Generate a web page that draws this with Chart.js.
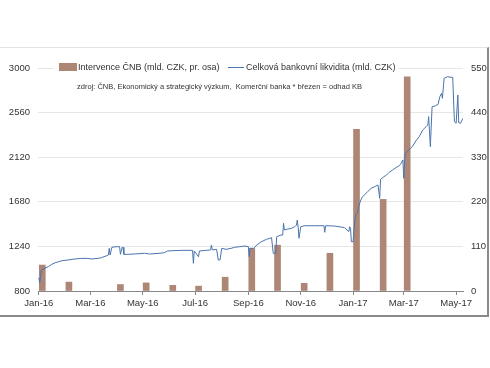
<!DOCTYPE html>
<html lang="cs">
<head>
  <meta charset="UTF-8" />
  <title>Likvidita</title>
  <script src="https://cdn.jsdelivr.net/npm/chart.js"></script>
  <style>
    body { margin: 0; background: #fff; font-family: "Liberation Sans", Arial, sans-serif; }
    #wrap { position: relative; width: 490px; height: 368px; }
    #frame { position: absolute; left: 0; top: 47px; width: 487px; height: 267px;
             border-top: 1px solid #e4e4e4; border-right: 2px solid #8a8a8a; border-bottom: 2px solid #8a8a8a; }
    .legend { position: absolute; top: 61px; left: 54px; height: 13px; padding-right: 4px;
              background: #fff; font-size: 9px; color: #333; white-space: nowrap; }
    .legend span { position: absolute; top: 0; line-height: 13px; }
    .sw-bar { position: absolute; left: 5px; top: 2px; width: 18px; height: 8px; background: #ad8676; }
    .sw-line { position: absolute; left: 174px; top: 6px; width: 16px; height: 1px; background: #4a74ad; }
    .source { position: absolute; top: 82px; left: 77px; font-size: 7.5px; color: #333; white-space: nowrap; }
  </style>
</head>
<body>
<div id="wrap">
  <div id="frame"></div>
  <canvas id="chart" width="490" height="368"></canvas>
  <div class="legend" style="width:340px">
    <div class="sw-bar"></div><span style="left:24px">Intervence ČNB (mld. CZK, pr. osa)</span>
    <div class="sw-line"></div><span style="left:192px">Celková bankovní likvidita (mld. CZK)</span>
  </div>
  <div class="source">zdroj: ČNB, Ekonomický a strategický výzkum,&nbsp; Komerční banka * březen = odhad KB</div>
</div>

<script>
  // Celková bankovní likvidita (mld. CZK), levá osa
  const liqDates = [
    '2016-01-01','2016-01-02','2016-01-04','2016-01-08','2016-01-12','2016-01-16','2016-01-20','2016-01-24','2016-01-28',
    '2016-02-04','2016-02-12','2016-02-20','2016-02-27',
    '2016-03-02','2016-03-10','2016-03-14','2016-03-20','2016-03-22','2016-03-23','2016-03-24','2016-03-26','2016-03-31',
    '2016-04-04','2016-04-05','2016-04-07','2016-04-08','2016-04-09','2016-04-14','2016-04-21',
    '2016-05-03','2016-05-09','2016-05-21','2016-05-26','2016-05-30',
    '2016-06-05','2016-06-16','2016-06-28','2016-06-29','2016-06-30',
    '2016-07-05','2016-07-06','2016-07-14','2016-07-19','2016-07-20','2016-07-21','2016-07-26','2016-07-28','2016-07-30',
    '2016-08-01','2016-08-06','2016-08-12','2016-08-16','2016-08-22','2016-08-28',
    '2016-09-01','2016-09-02','2016-09-03','2016-09-07','2016-09-11','2016-09-15','2016-09-18','2016-09-22','2016-09-26','2016-09-28','2016-09-30',
    '2016-10-03','2016-10-04','2016-10-09','2016-10-11','2016-10-12','2016-10-13','2016-10-17','2016-10-21','2016-10-25','2016-10-27','2016-10-28','2016-10-29','2016-10-30',
    '2016-11-01','2016-11-05','2016-11-17','2016-11-28','2016-11-29','2016-11-30',
    '2016-12-10','2016-12-18','2016-12-22','2016-12-27','2016-12-28','2016-12-29','2016-12-30',
    '2017-01-01','2017-01-03','2017-01-04','2017-01-06','2017-01-08','2017-01-10','2017-01-12','2017-01-14','2017-01-18','2017-01-22','2017-01-26','2017-01-30','2017-01-31',
    '2017-02-01','2017-02-02','2017-02-05','2017-02-09','2017-02-12','2017-02-16','2017-02-20','2017-02-24','2017-02-26','2017-02-28',
    '2017-03-01','2017-03-02','2017-03-03','2017-03-07','2017-03-11','2017-03-15','2017-03-19','2017-03-23','2017-03-27','2017-03-29','2017-03-30',
    '2017-04-01','2017-04-03','2017-04-07','2017-04-10','2017-04-12','2017-04-14','2017-04-15','2017-04-17','2017-04-21','2017-04-25','2017-04-27','2017-04-29',
    '2017-05-01','2017-05-03','2017-05-04','2017-05-06','2017-05-09'
  ];
  const liqValues = [
    930, 880, 1007, 1024, 1040, 1063, 1079, 1089, 1099,
    1106, 1116, 1122, 1122,
    1116, 1122, 1129, 1148, 1155, 1221, 1155, 1231, 1237,
    1237, 1162, 1231, 1231, 1162, 1162, 1165,
    1172, 1165, 1172, 1178, 1195,
    1198, 1201, 1201, 1073, 1195,
    1138, 1195, 1201, 1205, 1254, 1205, 1211, 1106, 1106,
    1221, 1211, 1221, 1231, 1237, 1244,
    1237, 1138, 1221, 1221, 1254, 1280, 1293, 1310, 1320, 1326, 1172,
    1172, 1336, 1352, 1352, 1468, 1402, 1412, 1418, 1434, 1451, 1500, 1430, 1320,
    1434, 1444, 1444, 1444, 1379, 1444,
    1441, 1431, 1425, 1385, 1434, 1420, 1286,
    1286, 1500, 1550, 1566, 1648, 1698, 1730, 1747, 1780, 1813, 1829, 1846, 1846,
    1714, 1902, 1922, 1945, 1971, 1994, 2017, 2037, 2060, 2093,
    1912, 2093, 2158, 2191, 2224, 2280, 2322, 2388, 2421, 2438, 2520,
    2224, 2618, 2628, 2642, 2717, 2750, 2701, 2898, 2914, 2908, 2908, 2470,
    2455, 2734, 2460, 2455, 2504
  ];

  // Intervence ČNB (mld. CZK), pravá osa
  const barDates = ['2016-01-05','2016-02-05','2016-04-05','2016-05-05','2016-06-05','2016-07-05','2016-08-05',
                    '2016-09-05','2016-10-05','2016-11-05','2016-12-05','2017-01-05','2017-02-05','2017-03-05'];
  const barValues = [64, 22, 16, 20, 14, 12, 34, 105, 113, 19, 93, 399, 226, 528];

  const xTickDates = ['2016-01-01','2016-03-01','2016-05-01','2016-07-01','2016-09-01','2016-11-01','2017-01-01','2017-03-01','2017-05-01'];
  const xTickLabels = ['Jan-16','Mar-16','May-16','Jul-16','Sep-16','Nov-16','Jan-17','Mar-17','May-17'];

  const leftTicks = [800, 1240, 1680, 2120, 2560, 3000];
  const rightTicks = [0, 110, 220, 330, 440, 550];

  // days since 1 Jan 2016 (no date adapter available, so x is linear)
  const day0 = Date.UTC(2016, 0, 1);
  function toDay(s) {
    const p = s.split('-');
    return (Date.UTC(+p[0], +p[1] - 1, +p[2]) - day0) / 86400000;
  }

  const tickFont = { family: '"Liberation Sans", Arial, sans-serif', size: 9.5 };

  new Chart(document.getElementById('chart'), {
    type: 'bar',
    data: {
      datasets: [
        {
          type: 'line',
          label: 'Celková bankovní likvidita (mld. CZK)',
          data: liqDates.map((d, i) => ({ x: toDay(d), y: liqValues[i] })),
          yAxisID: 'y',
          borderColor: '#4a74ad',
          borderWidth: 1,
          pointRadius: 0,
          tension: 0,
          order: 0
        },
        {
          type: 'bar',
          label: 'Intervence ČNB (mld. CZK, pr. osa)',
          data: barDates.map((d, i) => ({ x: toDay(d), y: barValues[i] })),
          yAxisID: 'y1',
          backgroundColor: '#ad8676',
          barThickness: 6,
          order: 1
        }
      ]
    },
    options: {
      responsive: false,
      animation: false,
      layout: { padding: { top: 68, bottom: 52, left: 0, right: 0 } },
      plugins: { legend: { display: false }, tooltip: { enabled: false } },
      scales: {
        x: {
          type: 'linear',
          min: -1,
          max: 494,
          offset: false,
          afterBuildTicks: (axis) => { axis.ticks = xTickDates.map(d => ({ value: toDay(d) })); },
          afterFit: (axis) => { axis.height = 25; },
          ticks: {
            autoSkip: false,
            maxRotation: 0,
            padding: 3,
            color: '#333',
            font: tickFont,
            callback: (v, i) => xTickLabels[i]
          },
          grid: { drawOnChartArea: false, drawTicks: true, tickLength: 4, color: '#888', offset: false },
          border: { color: '#888' }
        },
        y: {
          position: 'left',
          min: 800,
          max: 3000,
          afterBuildTicks: (axis) => { axis.ticks = leftTicks.map(v => ({ value: v })); },
          afterFit: (axis) => { axis.width = 38; },
          ticks: { padding: 8, color: '#333', font: tickFont, callback: (v) => String(v) },
          grid: { color: '#e6e6e6', drawTicks: false },
          border: { display: false }
        },
        y1: {
          position: 'right',
          min: 0,
          max: 550,
          afterBuildTicks: (axis) => { axis.ticks = rightTicks.map(v => ({ value: v })); },
          afterFit: (axis) => { axis.width = 27; },
          ticks: { padding: 8, color: '#333', font: tickFont, callback: (v) => String(v) },
          grid: { drawOnChartArea: false, drawTicks: false },
          border: { display: false }
        }
      }
    }
  });
</script>
</body>
</html>
